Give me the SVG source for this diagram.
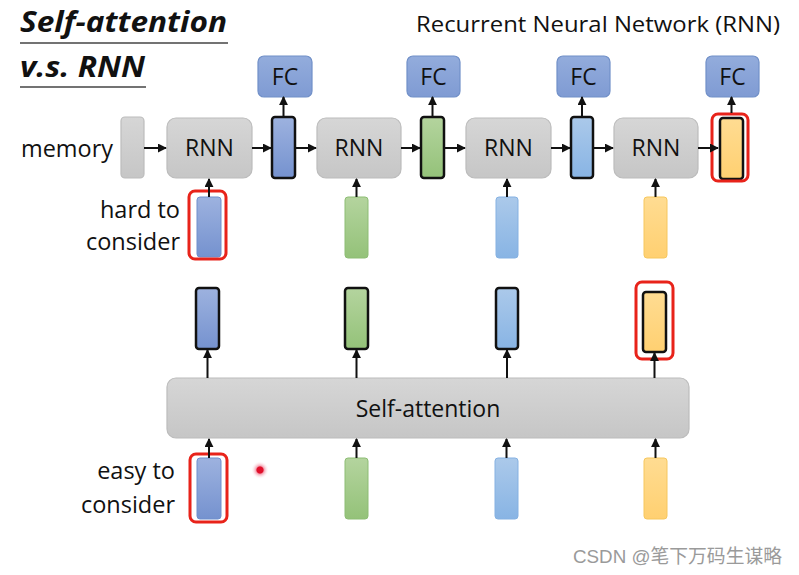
<svg xmlns="http://www.w3.org/2000/svg" width="799" height="575" viewBox="0 0 799 575">
<style>
text{font-family:"Open Sans","Liberation Sans",sans-serif;fill:#111}
.lbl{font-size:23.5px}
.rnn{font-size:23px;text-anchor:middle}
.fc{fill:url(#gFC);stroke:#7190c8;stroke-width:1.2}
.box{fill:url(#gGray);stroke:#bcbcbc;stroke-width:1.2}
.hid{stroke:#111;stroke-width:2.5}
.red{fill:none;stroke:#e8231a;stroke-width:3}
.ar{stroke:#111;stroke-width:2;fill:none;marker-end:url(#ah)}
</style>
<defs>
<marker id="ah" viewBox="0 0 10 10" refX="9" refY="5" markerWidth="4.5" markerHeight="4.5" orient="auto" markerUnits="strokeWidth">
<path d="M0,0 L10,5 L0,10 z" fill="#111"/>
</marker>
<linearGradient id="gGray" x1="0" y1="0" x2="0" y2="1"><stop offset="0" stop-color="#d6d6d6"/><stop offset="1" stop-color="#c6c6c6"/></linearGradient>
<linearGradient id="gFC" x1="0" y1="0" x2="0" y2="1"><stop offset="0" stop-color="#93acdc"/><stop offset="1" stop-color="#7f9bd3"/></linearGradient>
<linearGradient id="gB" x1="0" y1="0" x2="0" y2="1"><stop offset="0" stop-color="#9db2df"/><stop offset="1" stop-color="#7592cf"/></linearGradient>
<linearGradient id="gG" x1="0" y1="0" x2="0" y2="1"><stop offset="0" stop-color="#b4d49e"/><stop offset="1" stop-color="#94c279"/></linearGradient>
<linearGradient id="gL" x1="0" y1="0" x2="0" y2="1"><stop offset="0" stop-color="#abc9ea"/><stop offset="1" stop-color="#88b4e4"/></linearGradient>
<linearGradient id="gO" x1="0" y1="0" x2="0" y2="1"><stop offset="0" stop-color="#ffdc92"/><stop offset="1" stop-color="#ffd071"/></linearGradient>
<radialGradient id="gDot"><stop offset="0" stop-color="#e0102a"/><stop offset="0.35" stop-color="#e0102a"/><stop offset="0.45" stop-color="#f4a0b0"/><stop offset="1" stop-color="#ffffff" stop-opacity="0"/></radialGradient>
</defs>
<rect width="799" height="575" fill="#ffffff"/>

<g id="title">
<text x="20" y="32" font-size="28" font-weight="bold" font-style="italic" textLength="207" lengthAdjust="spacingAndGlyphs">Self-attention</text>
<line x1="20" y1="43" x2="228" y2="43" stroke="#444" stroke-width="1.5"/>
<text x="20" y="77" font-size="28" font-weight="bold" font-style="italic" textLength="125" lengthAdjust="spacingAndGlyphs">v.s. RNN</text>
<line x1="20" y1="87" x2="146" y2="87" stroke="#444" stroke-width="1.5"/>
</g>
<g id="subtitle">
<text x="416" y="32" font-size="21" textLength="364" lengthAdjust="spacingAndGlyphs">Recurrent Neural Network (RNN)</text>
</g>

<g id="labels">
<text class="lbl" x="21" y="157" textLength="92" lengthAdjust="spacingAndGlyphs">memory</text>
<text class="lbl" x="180" y="218" text-anchor="end">hard to</text>
<text class="lbl" x="180" y="250" text-anchor="end">consider</text>
<text class="lbl" x="175" y="479" text-anchor="end">easy to</text>
<text class="lbl" x="175" y="513" text-anchor="end">consider</text>
</g>

<g id="memory"><rect x="121" y="117" width="23" height="61" rx="4" class="box"/></g>

<g id="rnn1"><rect x="167" y="118" width="85" height="60" rx="9" class="box"/><text class="rnn" x="209.5" y="156">RNN</text></g>
<g id="rnn2"><rect x="317" y="118" width="84" height="60" rx="9" class="box"/><text class="rnn" x="359" y="156">RNN</text></g>
<g id="rnn3"><rect x="466" y="118" width="85" height="60" rx="9" class="box"/><text class="rnn" x="508.5" y="156">RNN</text></g>
<g id="rnn4"><rect x="614" y="118" width="84" height="60" rx="9" class="box"/><text class="rnn" x="656" y="156">RNN</text></g>

<g id="fc1"><rect x="258" y="56" width="54" height="41" rx="6" class="fc"/><text class="rnn" x="285" y="85">FC</text></g>
<g id="fc2"><rect x="407" y="56" width="53" height="41" rx="6" class="fc"/><text class="rnn" x="433.5" y="85">FC</text></g>
<g id="fc3"><rect x="557" y="56" width="53" height="41" rx="6" class="fc"/><text class="rnn" x="583.5" y="85">FC</text></g>
<g id="fc4"><rect x="706" y="56" width="53" height="41" rx="6" class="fc"/><text class="rnn" x="732.5" y="85">FC</text></g>

<g id="h1"><rect x="272" y="117" width="23" height="61" rx="3" fill="url(#gB)" class="hid"/></g>
<g id="h2"><rect x="421" y="117" width="23" height="61" rx="3" fill="url(#gG)" class="hid"/></g>
<g id="h3"><rect x="571" y="117" width="22" height="61" rx="3" fill="url(#gL)" class="hid"/></g>
<g id="h4"><rect x="720" y="118" width="23" height="61" rx="3" fill="url(#gO)" class="hid"/><rect x="712" y="114" width="36" height="67" rx="6" class="red"/></g>

<g id="x1"><rect x="197" y="197" width="24" height="60" rx="3" fill="url(#gB)" stroke="#6f8fcc"/><rect x="189" y="191" width="37" height="68" rx="6" class="red"/></g>
<g id="x2"><rect x="345" y="197" width="23" height="61" rx="3" fill="url(#gG)" stroke="#8dbd74"/></g>
<g id="x3"><rect x="496" y="197" width="22" height="61" rx="3" fill="url(#gL)" stroke="#85b1e2"/></g>
<g id="x4"><rect x="644" y="197" width="23" height="61" rx="3" fill="url(#gO)" stroke="#f6c75e"/></g>

<g id="selfattention"><rect x="167" y="378" width="522" height="60" rx="9" class="box"/><text class="rnn" x="428" y="417">Self-attention</text></g>

<g id="o1"><rect x="196" y="288" width="23" height="61" rx="3" fill="url(#gB)" class="hid"/></g>
<g id="o2"><rect x="345" y="288" width="23" height="61" rx="3" fill="url(#gG)" class="hid"/></g>
<g id="o3"><rect x="496" y="288" width="22" height="61" rx="3" fill="url(#gL)" class="hid"/></g>
<g id="o4"><rect x="643" y="292" width="23" height="60" rx="3" fill="url(#gO)" class="hid"/><rect x="636" y="282" width="37" height="77" rx="6" class="red"/></g>

<g id="i1"><rect x="197" y="458" width="24" height="61" rx="3" fill="url(#gB)" stroke="#6f8fcc"/><rect x="190" y="454" width="37" height="68" rx="6" class="red"/></g>
<g id="i2"><rect x="345" y="458" width="23" height="61" rx="3" fill="url(#gG)" stroke="#8dbd74"/></g>
<g id="i3"><rect x="495" y="458" width="23" height="61" rx="3" fill="url(#gL)" stroke="#85b1e2"/></g>
<g id="i4"><rect x="644" y="458" width="23" height="61" rx="3" fill="url(#gO)" stroke="#f6c75e"/></g>

<g id="connectors">
<line class="ar" x1="144" y1="148" x2="166" y2="148"/>
<line class="ar" x1="252" y1="148" x2="271" y2="148"/>
<line class="ar" x1="295" y1="148" x2="316" y2="148"/>
<line class="ar" x1="401" y1="148" x2="420" y2="148"/>
<line class="ar" x1="444" y1="148" x2="465" y2="148"/>
<line class="ar" x1="551" y1="148" x2="570" y2="148"/>
<line class="ar" x1="593" y1="148" x2="613" y2="148"/>
<line class="ar" x1="698" y1="148" x2="718" y2="148"/>
<line class="ar" x1="283.5" y1="116" x2="283.5" y2="97"/>
<line class="ar" x1="432.5" y1="116" x2="432.5" y2="97"/>
<line class="ar" x1="582" y1="116" x2="582" y2="97"/>
<line class="ar" x1="731.5" y1="113" x2="731.5" y2="97"/>
<line class="ar" x1="209" y1="197" x2="209" y2="179"/>
<line class="ar" x1="356.5" y1="197" x2="356.5" y2="179"/>
<line class="ar" x1="507" y1="197" x2="507" y2="179"/>
<line class="ar" x1="655.5" y1="197" x2="655.5" y2="179"/>
<line class="ar" x1="207.5" y1="378" x2="207.5" y2="350"/>
<line class="ar" x1="356.5" y1="378" x2="356.5" y2="350"/>
<line class="ar" x1="507" y1="378" x2="507" y2="350"/>
<line class="ar" x1="654.5" y1="378" x2="654.5" y2="353"/>
<line class="ar" x1="209" y1="458" x2="209" y2="439"/>
<line class="ar" x1="356.5" y1="458" x2="356.5" y2="439"/>
<line class="ar" x1="506.5" y1="458" x2="506.5" y2="439"/>
<line class="ar" x1="655.5" y1="458" x2="655.5" y2="439"/>
</g>

<circle cx="260" cy="470" r="9" fill="url(#gDot)"/>
<text x="573" y="563" font-size="19" textLength="209" lengthAdjust="spacingAndGlyphs" style="fill:#9a9a9a;font-family:'Liberation Sans','Noto Sans CJK SC',sans-serif">CSDN @笔下万码生谋略</text>
</svg>
